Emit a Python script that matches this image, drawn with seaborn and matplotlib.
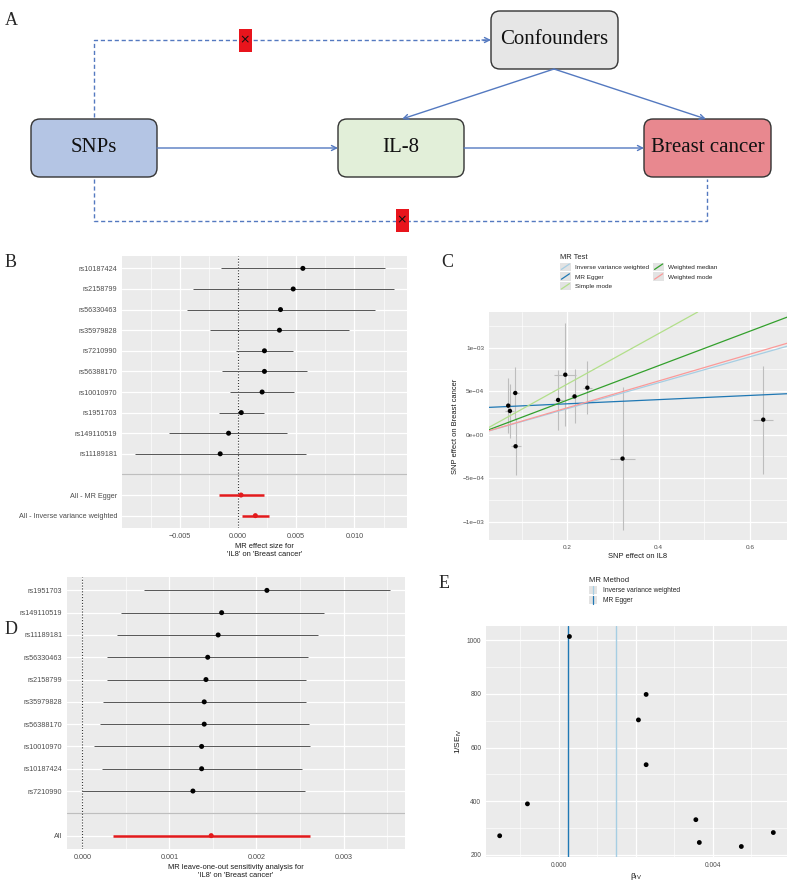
import numpy as np
import pandas as pd
import matplotlib
matplotlib.use("Agg")
import matplotlib.pyplot as plt
import seaborn as sns
from matplotlib.patches import FancyBboxPatch, Rectangle
from matplotlib.lines import Line2D
from matplotlib.legend_handler import HandlerBase
from matplotlib.ticker import FixedLocator

# ---- data ----
# B: single SNP forest plot
b_snps = ["rs10187424", "rs2158799", "rs56330463", "rs35979828", "rs7210990",
          "rs56388170", "rs10010970", "rs1951703", "rs149110519", "rs11189181"]
b_est = [0.00557, 0.00474, 0.00365, 0.00356, 0.00227, 0.00227, 0.00207, 0.00028, -0.00081, -0.00153]
b_lo = [-0.00145, -0.00390, -0.00440, -0.00239, -0.00017, -0.00138, -0.00072, -0.00161, -0.00590, -0.00885]
b_hi = [0.01260, 0.01340, 0.01175, 0.00954, 0.00474, 0.00595, 0.00485, 0.00227, 0.00425, 0.00583]
b_sum_names = ["All - MR Egger", "All - Inverse variance weighted"]
b_sum_est = [0.00026, 0.00149]
b_sum_lo = [-0.00167, 0.00036]
b_sum_hi = [0.00221, 0.00263]

# C: scatter of SNP effects
c_x = [0.0708, 0.0745, 0.0862, 0.0869, 0.180, 0.1957, 0.216, 0.244, 0.321, 0.629]
c_y = [3.33e-4, 2.72e-4, 4.78e-4, -1.34e-4, 3.98e-4, 6.88e-4, 4.39e-4, 5.39e-4, -2.75e-4, 1.72e-4]
c_xse = [0.012, 0.010, 0.008, 0.011, 0.010, 0.024, 0.008, 0.010, 0.027, 0.022]
c_yse = [3.2e-4, 3.1e-4, 3.0e-4, 3.25e-4, 3.4e-4, 5.9e-4, 3.1e-4, 3.05e-4, 8.2e-4, 6.2e-4]
methods = ["Inverse variance weighted", "MR Egger", "Simple mode", "Weighted median", "Weighted mode"]
slopes = [0.00149, 0.00024, 0.00290, 0.00198, 0.00154]
intercepts = [0.0, 3.06e-4, 0.0, 0.0, 0.0]
method_colors = ["#a6cee3", "#1f78b4", "#b2df8a", "#33a02c", "#fb9a99"]

# D: leave-one-out
d_snps = ["rs1951703", "rs149110519", "rs11189181", "rs56330463", "rs2158799",
          "rs35979828", "rs56388170", "rs10010970", "rs10187424", "rs7210990"]
d_est = [0.00212, 0.00160, 0.00156, 0.00144, 0.00142, 0.00140, 0.00140, 0.00137, 0.00137, 0.00127]
d_lo = [0.00071, 0.00044, 0.00040, 0.00028, 0.00028, 0.00024, 0.00020, 0.00013, 0.00022, 0.00000]
d_hi = [0.00353, 0.00278, 0.00271, 0.00259, 0.00257, 0.00257, 0.00260, 0.00262, 0.00252, 0.00256]
d_all_est = [0.00148]
d_all_lo = [0.00035]
d_all_hi = [0.00262]

# E: funnel plot
e_beta = [0.00028, 0.00227, 0.00207, 0.00227, -0.00081, -0.00153, 0.00356, 0.00365, 0.00474, 0.00557]
e_prec = [1014, 798, 703, 536, 390, 271, 331, 246, 231, 283]
e_methods = ["Inverse variance weighted", "MR Egger"]
e_lines = [0.00148, 0.00025]
e_colors = ["#a6cee3", "#1f78b4"]

W, H = 794, 883
BLUE = "#5479c0"

sns.set_theme(style="darkgrid", rc={
    "axes.facecolor": "#ebebeb",
    "grid.color": "white",
    "axes.edgecolor": "none",
    "axes.axisbelow": True,
})
plt.rcParams["font.family"] = ["Liberation Sans", "DejaVu Sans"]

fig = plt.figure(figsize=(W / 100, H / 100), dpi=100)


def px_axes(l, t, r, b):
    return fig.add_axes([l / W, 1 - b / H, (r - l) / W, (b - t) / H])


def padded(lo, hi, f=0.05):
    d = (hi - lo) * f
    return lo - d, hi + d


def minus(v, fmt):
    return (fmt % v).replace("-", "\u2212")


def style(ax, fs=5.2):
    ax.tick_params(which="major", length=2, width=0.5, color="#333333",
                   labelsize=fs, labelcolor="#4d4d4d", pad=1.5)
    ax.tick_params(which="minor", length=0)
    ax.grid(which="major", color="white", lw=0.9)
    ax.grid(which="minor", color="white", lw=0.45)


def panel_label(x, y, s):
    fig.text(x / W, 1 - y / H, s, fontsize=13, family="Liberation Serif", va="baseline")


# ---------------- A: diagram ----------------
axa = fig.add_axes([0, 1 - 250 / H, 1, 250 / H])
axa.set_xlim(0, W)
axa.set_ylim(250, 0)
axa.axis("off")

boxes = [("SNPs", 31, 119, 157, 177, "#b4c5e4"),
         ("IL-8", 338, 119, 464, 177, "#e2efd9"),
         ("Breast cancer", 644, 119, 771, 177, "#e8888f"),
         ("Confounders", 491, 11, 618, 69, "#e6e6e6")]
for name, l, t, r, b, fc in boxes:
    axa.add_patch(FancyBboxPatch((l, t), r - l, b - t, boxstyle="round,pad=0,rounding_size=9",
                                 fc=fc, ec="#333333", lw=1.0))
    axa.text((l + r) / 2, (t + b) / 2, name, ha="center", va="center",
             fontsize=15, family="Liberation Serif", color="#111111")

arrow = dict(arrowstyle="->", color=BLUE, lw=1.0, shrinkA=0, shrinkB=0, mutation_scale=9)
axa.annotate("", xy=(338, 148), xytext=(157, 148), arrowprops=arrow)
axa.annotate("", xy=(644, 148), xytext=(464, 148), arrowprops=arrow)
axa.annotate("", xy=(402, 119), xytext=(554, 69), arrowprops=arrow)
axa.annotate("", xy=(706, 119), xytext=(554, 69), arrowprops=arrow)

dash = dict(color=BLUE, lw=1.0, ls=(0, (3, 2)))
axa.plot([94, 94, 486], [117, 40, 40], **dash)
axa.annotate("", xy=(491, 40), xytext=(482, 40), arrowprops=arrow)
axa.plot([94, 94, 707, 707], [179, 221, 221, 179], **dash)
for cx, cy in [(245, 40), (402, 220)]:
    axa.add_patch(Rectangle((cx - 6.5, cy - 11.5), 13, 23, fc="#e8141c", ec="none", zorder=3))
    axa.text(cx, cy, "\u00d7", ha="center", va="center", fontsize=9, color="#111111", zorder=4,
             family="DejaVu Sans")

panel_label(5, 25, "A")


# ---------------- forest plots (B, D) ----------------
def forest(ax, names, est, lo, hi, s_names, s_est, s_lo, s_hi, xlab, xmajor, xminor, fmt):
    labels = names + [""] + s_names
    pos = np.arange(len(labels))
    df = pd.DataFrame({
        "label": labels,
        "pos": pos,
        "b": est + [np.nan] + s_est,
        "lo": lo + [np.nan] + s_lo,
        "hi": hi + [np.nan] + s_hi,
        "summary": [False] * (len(names) + 1) + [True] * len(s_names),
    }).dropna()
    ax.axhline(len(names), color="#bebebe", lw=0.9, zorder=1)
    ax.axvline(0, color="#333333", lw=0.8, ls=(0, (1, 1.6)), zorder=1)
    snp = df[~df["summary"]]
    summ = df[df["summary"]]
    ax.hlines(snp["pos"], snp["lo"], snp["hi"], color="#555555", lw=0.7, zorder=2)
    ax.hlines(summ["pos"], summ["lo"], summ["hi"], color="#e31a1c", lw=1.8, zorder=2)
    sns.scatterplot(data=df, x="b", y="pos", hue="summary",
                    palette={False: "black", True: "#e31a1c"},
                    s=13, edgecolor="none", legend=False, ax=ax, zorder=3)
    ax.set_ylim(len(labels) - 1 + 0.6, -0.6)
    ax.set_yticks(pos)
    ax.set_yticklabels(labels)
    ax.set_xlim(*padded(df["lo"].min(), df["hi"].max()))
    ax.set_xticks(xmajor)
    ax.set_xticklabels([minus(v, fmt) for v in xmajor])
    ax.xaxis.set_minor_locator(FixedLocator(xminor))
    style(ax)
    ax.grid(which="minor", axis="y", visible=False)
    ax.set_ylabel("")
    ax.set_xlabel(xlab, fontsize=5.4, color="#1a1a1a", labelpad=2, linespacing=1.2)


axb = px_axes(122, 256, 407, 528)
forest(axb, b_snps, b_est, b_lo, b_hi, b_sum_names, b_sum_est, b_sum_lo, b_sum_hi,
       "MR effect size for\n'IL8' on 'Breast cancer'",
       [-0.005, 0.0, 0.005, 0.010], [-0.0075, -0.0025, 0.0025, 0.0075, 0.0125], "%.3f")
panel_label(5, 267, "B")

axd = px_axes(67, 577, 405, 849)
forest(axd, d_snps, d_est, d_lo, d_hi, ["All"], d_all_est, d_all_lo, d_all_hi,
       "MR leave-one-out sensitivity analysis for\n'IL8' on 'Breast cancer'",
       [0.0, 0.001, 0.002, 0.003], [0.0005, 0.0015, 0.0025, 0.0035], "%.3f")
panel_label(5, 634, "D")


# ---------------- legend keys ----------------
class KeyHandler(HandlerBase):
    def __init__(self, kind):
        super().__init__()
        self.kind = kind

    def create_artists(self, legend, orig_handle, xdescent, ydescent, width, height, fontsize, trans):
        x0, y0 = -xdescent, -ydescent
        bg = Rectangle((x0, y0), width, height, fc="#e3e3e3", ec="none", transform=trans)
        if self.kind == "diag":
            ln = Line2D([x0 + 1, x0 + width - 1], [y0 + 1, y0 + height - 1], transform=trans)
        else:
            ln = Line2D([x0 + width / 2] * 2, [y0, y0 + height], transform=trans)
        ln.set_color(orig_handle.get_color())
        ln.set_linewidth(0.9)
        return [bg, ln]


# ---------------- C: scatter ----------------
axc = px_axes(489, 312, 787, 540)
cdf = pd.DataFrame({"x": c_x, "y": c_y, "xse": c_xse, "yse": c_yse})
axc.vlines(cdf["x"], cdf["y"] - cdf["yse"], cdf["y"] + cdf["yse"], color="#bdbdbd", lw=0.8, zorder=2)
axc.hlines(cdf["y"], cdf["x"] - cdf["xse"], cdf["x"] + cdf["xse"], color="#bdbdbd", lw=0.8, zorder=2)
for m, sl, ic, col in zip(methods, slopes, intercepts, method_colors):
    axc.axline((0, ic), slope=sl, color=col, lw=0.9, zorder=3)
sns.scatterplot(data=cdf, x="x", y="y", color="black", s=10, edgecolor="none", ax=axc, zorder=4)
axc.set_xlim(0.0287, 0.681)
axc.set_ylim(-1.21e-3, 1.408e-3)
c_yt = [-1e-3, -5e-4, 0.0, 5e-4, 1e-3]
axc.set_yticks(c_yt)
axc.set_yticklabels(["\u22121e\u221203", "\u22125e\u221204", "0e+00", "5e\u221204", "1e\u221203"])
axc.set_xticks([0.2, 0.4, 0.6])
axc.set_xticklabels(["0.2", "0.4", "0.6"])
axc.xaxis.set_minor_locator(FixedLocator([0.1, 0.3, 0.5]))
axc.yaxis.set_minor_locator(FixedLocator([-7.5e-4, -2.5e-4, 2.5e-4, 7.5e-4, 1.25e-3]))
style(axc, fs=4.6)
axc.set_xlabel("SNP effect on IL8", fontsize=5.4, color="#1a1a1a", labelpad=2)
axc.set_ylabel("SNP effect on Breast cancer", fontsize=5.4, color="#1a1a1a", labelpad=2)
handles = [Line2D([], [], color=c) for c in method_colors]
fig.legend(handles, methods, loc="upper left", bbox_to_anchor=(560 / W, 1 - 254 / H),
           ncol=2, title="MR Test", frameon=False, alignment="left",
           fontsize=4.6, title_fontsize=5.4, handlelength=1.7, handleheight=1.6,
           labelspacing=0.25, handletextpad=0.7, columnspacing=0.6,
           borderpad=0, borderaxespad=0, handler_map={Line2D: KeyHandler("diag")})
panel_label(441, 267, "C")

# ---------------- E: funnel ----------------
axe = px_axes(486, 626, 787, 857)
edf = pd.DataFrame({"beta": e_beta, "prec": e_prec})
for v, col in zip(e_lines, e_colors):
    axe.axvline(v, color=col, lw=1.0, zorder=2)
sns.scatterplot(data=edf, x="beta", y="prec", color="black", s=12, edgecolor="none", ax=axe, zorder=3)
axe.set_xlim(*padded(edf["beta"].min(), edf["beta"].max()))
axe.set_ylim(*padded(edf["prec"].min(), edf["prec"].max()))
axe.set_xticks([0.0, 0.002, 0.004])
axe.set_xticklabels(["0.000", "", "0.004"])
axe.xaxis.set_minor_locator(FixedLocator([-0.001, 0.001, 0.003, 0.005]))
axe.set_yticks([200, 400, 600, 800, 1000])
axe.yaxis.set_minor_locator(FixedLocator([300, 500, 700, 900]))
style(axe, fs=4.8)
axe.set_xlabel("\u03b2$_\\mathregular{IV}$", fontsize=6, color="#1a1a1a", labelpad=1.5)
axe.set_ylabel("1/SE$_\\mathregular{IV}$", fontsize=6, color="#1a1a1a", labelpad=2)
handles = [Line2D([], [], color=c) for c in e_colors]
fig.legend(handles, e_methods, loc="upper left", bbox_to_anchor=(589 / W, 1 - 577 / H),
           ncol=1, title="MR Method", frameon=False, alignment="left",
           fontsize=4.8, title_fontsize=5.6, handlelength=1.2, handleheight=1.6,
           labelspacing=0.25, handletextpad=0.9,
           borderpad=0, borderaxespad=0, handler_map={Line2D: KeyHandler("vert")})
panel_label(439, 588, "E")

fig.savefig("out.png", dpi=100, facecolor="white")
